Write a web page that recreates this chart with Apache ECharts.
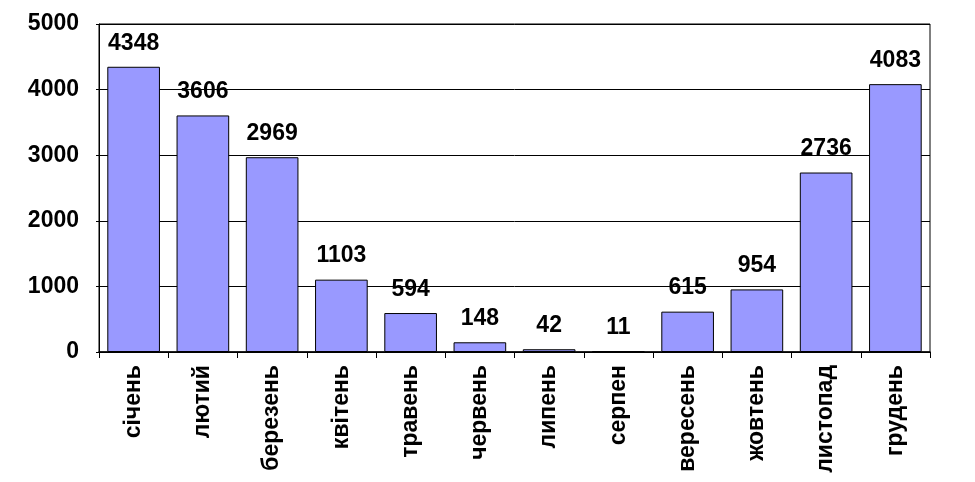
<!DOCTYPE html>
<html><head><meta charset="utf-8">
<script src="https://cdn.jsdelivr.net/npm/echarts@6/dist/echarts.min.js"></script>
<style>html,body{margin:0;padding:0;background:#fff}#c{width:975px;height:482px}</style>
</head><body><div id="c"></div>
<script>
const categories = ['січень','лютий','березень','квітень','травень','червень','липень','серпен','вересень','жовтень','листопад','грудень'];
const values = [4348,3606,2969,1103,594,148,42,11,615,954,2736,4083];
const yTicks = {min:0, max:5000, interval:1000};
const chart = echarts.init(document.getElementById('c'));
const font = 'Liberation Sans, Arial, sans-serif';
chart.setOption({
  animation:false,
  grid:{left:99, right:45, top:24, bottom:130, show:true, borderColor:'#000', borderWidth:1, backgroundColor:'transparent'},
  xAxis:{type:'category', data:categories,
    axisLine:{lineStyle:{color:'#000', width:1.5}},
    axisTick:{show:true, length:6, lineStyle:{color:'#000'}},
    axisLabel:{rotate:90, color:'#000', fontWeight:'bold', fontSize:23, fontFamily:font, margin:13}},
  yAxis:{type:'value', min:yTicks.min, max:yTicks.max, interval:yTicks.interval,
    axisLine:{show:true, lineStyle:{color:'#000'}},
    axisTick:{show:true, length:3, lineStyle:{color:'#000'}},
    splitLine:{lineStyle:{color:'#000', width:1}},
    axisLabel:{color:'#000', fontWeight:'bold', fontSize:23, fontFamily:font, margin:20, formatter: v => String(v)}},
  series:[{type:'bar', data:values, barCategoryGap:'24%',
    itemStyle:{color:'#9999FF', borderColor:'#000', borderWidth:1},
    label:{show:true, position:'top', distance:12, color:'#000', fontWeight:'bold', fontSize:23, fontFamily:font}}]
});
</script></body></html>
